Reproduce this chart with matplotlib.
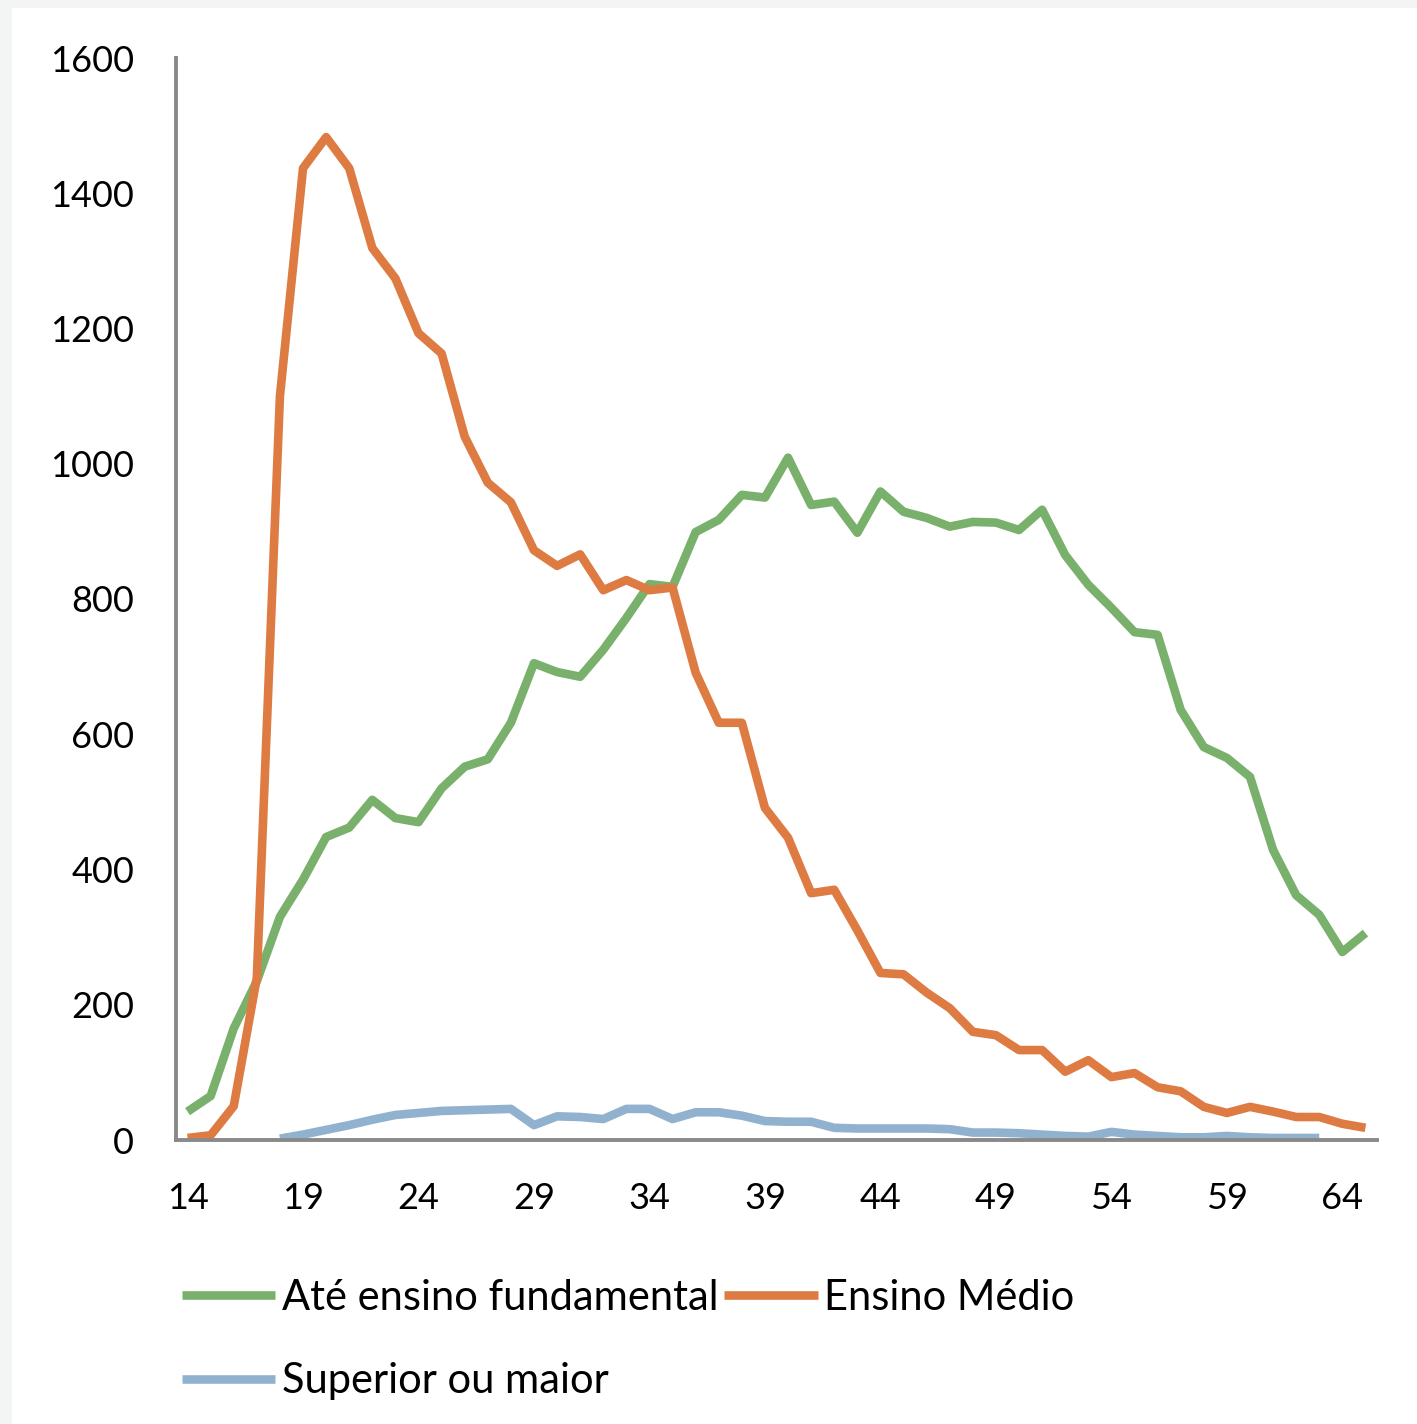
import numpy as np
import matplotlib
matplotlib.use("Agg")
import matplotlib.pyplot as plt
from matplotlib.patches import Rectangle

plt.rcParams['font.family'] = ['Lato', 'DejaVu Sans']

# data
ages = list(range(14, 66))

fundamental = [42, 65, 165, 235, 330, 385, 448, 462, 503, 476,
               470, 520, 552, 563, 617, 705, 692, 685, 725, 772,
               822, 818, 899, 917, 954, 950, 1009, 939, 944, 898,
               959, 929, 920, 907, 914, 913, 902, 932, 865, 821,
               787, 751, 747, 636, 581, 565, 537, 429, 362, 333,
               278, 306]

medio = [3, 7, 50, 240, 1100, 1437, 1483, 1437, 1319, 1274,
         1193, 1163, 1040, 972, 943, 872, 849, 866, 813, 828,
         813, 817, 691, 617, 617, 491, 447, 365, 370, 310,
         247, 245, 218, 195, 160, 155, 133, 133, 101, 118,
         93, 99, 78, 72, 49, 40, 49, 42, 34, 34,
         24, 18]

superior_ages = list(range(18, 64))
superior = [2, 8, 15, 22, 30, 37, 40, 43, 44, 45,
            46, 22, 35, 34, 31, 46, 46, 31, 41, 41,
            36, 28, 27, 27, 18, 17, 17, 17, 17, 16,
            11, 11, 10, 8, 6, 5, 12, 8, 6, 4,
            4, 6, 4, 3, 3, 3]

labels = ['Até ensino fundamental', 'Ensino Médio', 'Superior ou maior']
colors = ['#79b06b', '#dd7b42', '#91b2cf']

fig = plt.figure(figsize=(14.17, 14.24), dpi=100, facecolor='#f3f4f4')
# white panel inside the light grey frame (behind everything)
fig.patches.append(Rectangle((12 / 1417, 0), 1 - 12 / 1417, 1 - 8 / 1424,
                             transform=fig.transFigure, facecolor='white',
                             edgecolor='none', zorder=-10))

ax = fig.add_axes([176 / 1417, (1424 - 1140) / 1424,
                   (1377 - 176) / 1417, (1140 - 58) / 1424])
ax.set_facecolor('none')

lw = 6.2
l1, = ax.plot(ages, fundamental, color=colors[0], lw=lw,
              solid_joinstyle='round', solid_capstyle='butt')
l2, = ax.plot(ages, medio, color=colors[1], lw=lw,
              solid_joinstyle='round', solid_capstyle='butt')
l3, = ax.plot(superior_ages, superior, color=colors[2], lw=lw,
              solid_joinstyle='round', solid_capstyle='butt')

ax.set_xlim(13.5, 65.5)
ax.set_ylim(0, 1600)
ax.set_xticks(range(14, 66, 5))
ax.set_yticks(range(0, 1601, 200))

for s in ['top', 'right']:
    ax.spines[s].set_visible(False)
for s in ['left', 'bottom']:
    ax.spines[s].set_color('#898989')
    ax.spines[s].set_linewidth(2.8)

ax.tick_params(axis='both', length=0, labelsize=26, colors='black')
ax.tick_params(axis='y', pad=30)
ax.tick_params(axis='x', pad=30)

# legend: row 1 = fundamental | medio, row 2 = superior
fig.legend([l1, l3, l2], [labels[0], labels[2], labels[1]], ncol=2,
           loc='upper left', bbox_to_anchor=(165 / 1417, 1 - 1262 / 1424),
           frameon=False, fontsize=30, handlelength=2.25, handletextpad=0.15,
           columnspacing=0.15, labelspacing=1.1, borderaxespad=0)

fig.savefig('out.png', dpi=100, facecolor=fig.get_facecolor())
